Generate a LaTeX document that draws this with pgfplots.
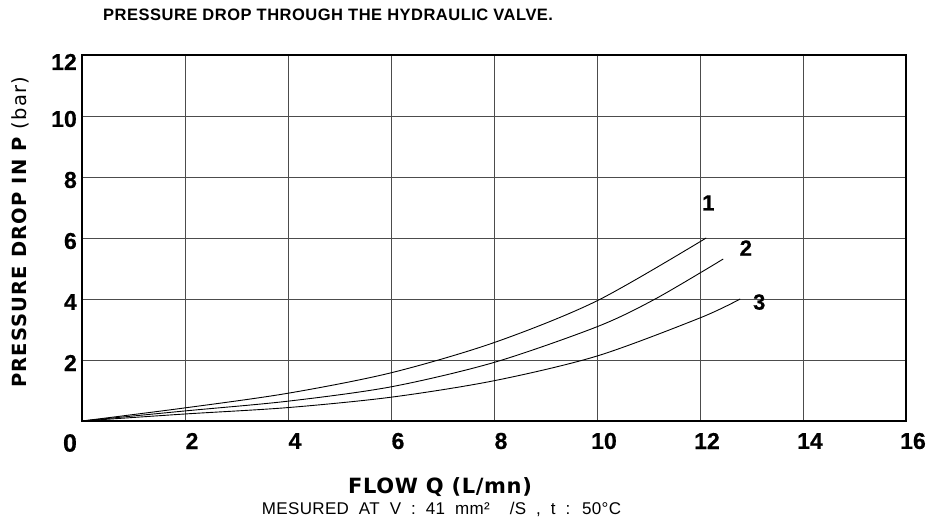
\documentclass[border=0pt]{standalone}
\usepackage{fontspec}
\setmainfont{Liberation Sans}
\newfontfamily\djv{DejaVu Sans}
\usepackage{pgfplots}
\pgfplotsset{compat=1.18}

\newcommand{\tickfont}{\fontsize{23}{23}\selectfont\bfseries\addfontfeatures{FakeBold=0.6}}
\newcommand{\curvefont}{\fontsize{22}{22}\selectfont\bfseries\addfontfeatures{FakeBold=0.6}}

\begin{document}
\begin{tikzpicture}
\path[use as bounding box] (-82pt,-101pt) rectangle (849pt,421pt);
\begin{axis}[
  at={(0pt,0pt)}, anchor=south west,
  scale only axis, width=824pt, height=366pt,
  xmin=0, xmax=16, ymin=0, ymax=12,
  xtick={2,4,...,16}, ytick={2,4,...,12},
  xticklabels={2,4,6,8,10,12,14,16},
  yticklabels={2,4,6,8,10,\raisebox{0pt}[24pt][0pt]{12}},
  major tick length=0pt,
  grid=major,
  grid style={black!70, line width=0.7pt},
  axis line style={black, line width=1.6pt},
  xticklabel style={font=\tickfont, anchor=center, inner sep=0pt, yshift=-20pt, xshift=7pt},
  yticklabel style={font=\tickfont, anchor=east, inner sep=0pt, xshift=-5pt, yshift=-3pt},
  clip=false,
]
\addplot[black, line width=0.9pt, smooth] coordinates {(0,0)(2,0.43)(4,0.91)(6,1.58)(8,2.57)(10,3.94)(12.12,6.0)};
\addplot[black, line width=0.9pt, smooth] coordinates {(0,0)(2,0.33)(4,0.65)(6,1.12)(8,1.92)(10,3.09)(11.13,4.0)(12.45,5.31)};
\addplot[black, line width=0.9pt, smooth] coordinates {(0,0)(2,0.23)(4,0.44)(6,0.78)(8,1.32)(10,2.13)(12,3.38)(12.78,4.0)};
\node[font=\curvefont, inner sep=0pt] at (axis cs:12.16,7.15) {1};
\node[font=\curvefont, inner sep=0pt] at (axis cs:12.89,5.67) {2};
\node[font=\curvefont, inner sep=0pt] at (axis cs:13.15,3.90) {3};
\end{axis}
\node[font=\fontsize{25}{25}\selectfont\bfseries\addfontfeatures{FakeBold=0.6}, inner sep=0pt] at (-12pt,-22pt) {0};
\node[font=\djv\fontsize{21}{21}\selectfont\bfseries\addfontfeatures{LetterSpace=3}, anchor=base, inner sep=0pt] at (358pt,-72.3pt) {FLOW Q (L/mn)};
\node[font=\fontsize{17}{17}\selectfont\addfontfeatures{LetterSpace=2}, anchor=base, inner sep=0pt] at (359.5pt,-93.3pt) {\spaceskip=10pt MESURED AT V : 41 mm²\hspace{10pt} /S , t : 50°C};
\node[rotate=90, anchor=base, inner sep=0pt, font=\djv\fontsize{19.5}{19.5}\selectfont\addfontfeatures{LetterSpace=6}] at (-55.3pt,188.5pt) {\bfseries PRESSURE DROP IN P \mdseries(bar)};
\node[anchor=base west, inner sep=0pt, font=\fontsize{16.5}{16.5}\selectfont\bfseries\addfontfeatures{LetterSpace=3}] at (21pt,400.3pt) {PRESSURE DROP THROUGH THE HYDRAULIC VALVE.};
\end{tikzpicture}
\end{document}
